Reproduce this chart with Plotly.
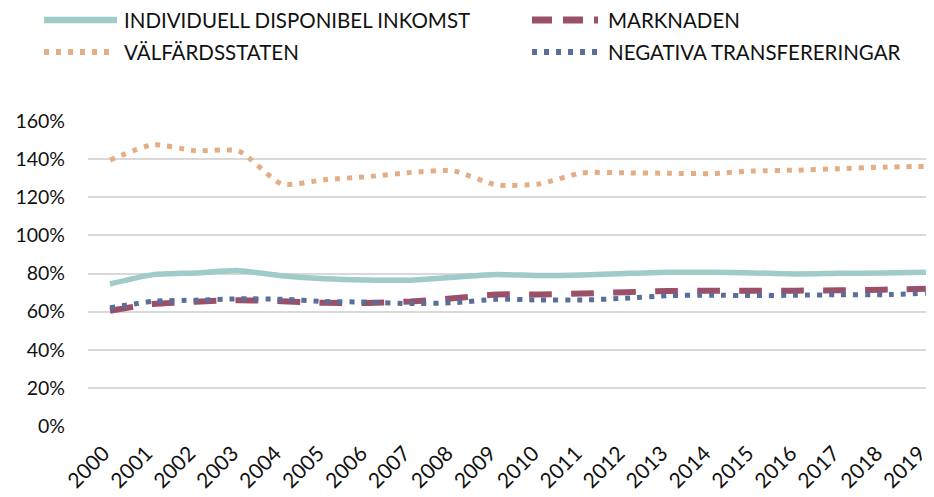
import plotly.graph_objects as go

years = [str(y) for y in range(2000, 2020)]

# andelar (1.0 = 100%)
individuell = [0.745, 0.794, 0.803, 0.815, 0.788, 0.772, 0.766, 0.765, 0.780, 0.795,
               0.789, 0.792, 0.800, 0.807, 0.806, 0.803, 0.798, 0.801, 0.802, 0.807]
marknaden = [0.605, 0.640, 0.652, 0.660, 0.655, 0.646, 0.645, 0.653, 0.670, 0.690,
             0.690, 0.695, 0.702, 0.708, 0.710, 0.710, 0.710, 0.712, 0.715, 0.720]
valfard = [1.395, 1.475, 1.444, 1.442, 1.270, 1.292, 1.308, 1.330, 1.338, 1.265,
           1.270, 1.328, 1.328, 1.326, 1.324, 1.338, 1.342, 1.350, 1.358, 1.362]
negativa = [0.620, 0.654, 0.660, 0.667, 0.665, 0.653, 0.650, 0.642, 0.647, 0.665,
            0.661, 0.661, 0.670, 0.684, 0.686, 0.684, 0.686, 0.689, 0.689, 0.696]

names = ["INDIVIDUELL DISPONIBEL INKOMST", "MARKNADEN", "VÄLFÄRDSSTATEN", "NEGATIVA TRANSFERERINGAR"]
colors = ["#9fcbc8", "#9b5069", "#e3ae85", "#5a6e9a"]
widths = [5.5, 6, 5, 5]
dashes = ["solid", "23px,19px", "5px,7px", "5px,7px"]
leg_dashes = ["solid", "20px,11px", "5px,7px", "5px,7px"]
series = [individuell, marknaden, valfard, negativa]

FONT = "Lato"

fig = go.Figure()
for i in [0, 1, 2, 3]:
    fig.add_trace(go.Scatter(
        x=list(range(len(years))), y=series[i], name=names[i], mode="lines",
        line=dict(color=colors[i], width=widths[i], dash=dashes[i], shape="spline", smoothing=0.6),
        showlegend=False))

# sidan har 8px marginal, allt flyttas 8px
OFF = 8
L, R, T, B = 88 - OFF, 0, 121 - OFF, 71
W, H = 934 - OFF, 497 - OFF
pw = W - L - R
ph = H - T - B

def px(x):
    return (x - OFF - L) / pw

def py(y):
    return (H - B - (y - OFF)) / ph

# egen legend
leg = [(0, 44, 117, 122, 20), (1, 532, 598, 606, 20), (2, 44, 110, 122, 52), (3, 532, 598, 606, 52)]
for i, x0, x1, tx, ty in leg:
    fig.add_shape(type="line", xref="paper", yref="paper",
                  x0=px(x0), x1=px(x1), y0=py(ty), y1=py(ty),
                  line=dict(color=colors[i], width=widths[i] + 1, dash=leg_dashes[i]))
    fig.add_annotation(xref="paper", yref="paper", x=px(tx), y=py(ty),
                       text=names[i], showarrow=False, xanchor="left", yanchor="middle",
                       font=dict(family=FONT, size=20.5, color="#111111"))

fig.update_layout(
    width=W, height=H,
    margin=dict(l=L, r=R, t=T, b=B, autoexpand=False),
    plot_bgcolor="white", paper_bgcolor="white",
    font=dict(family=FONT, size=19, color="#111111"),
)
# etiketterna flyttas lite åt vänster så att 2019 får plats
fig.update_xaxes(
    tickmode="array", tickvals=[i - 0.15 for i in range(len(years))], ticktext=years,
    range=[-0.512, 19.19], tickangle=-45, showgrid=False, zeroline=False,
    tickfont=dict(size=21), ticks="", automargin=False, ticklabeloverflow="allow",
    ticklabelstandoff=10,
)
fig.update_yaxes(
    range=[0, 1.6], dtick=0.2, tickformat=".0%", gridcolor="#d9d9d9", gridwidth=2,
    zeroline=False, tickfont=dict(size=19.5), ticks="", automargin=False,
    ticklabelstandoff=22,
)

fig.write_html("out.html")
